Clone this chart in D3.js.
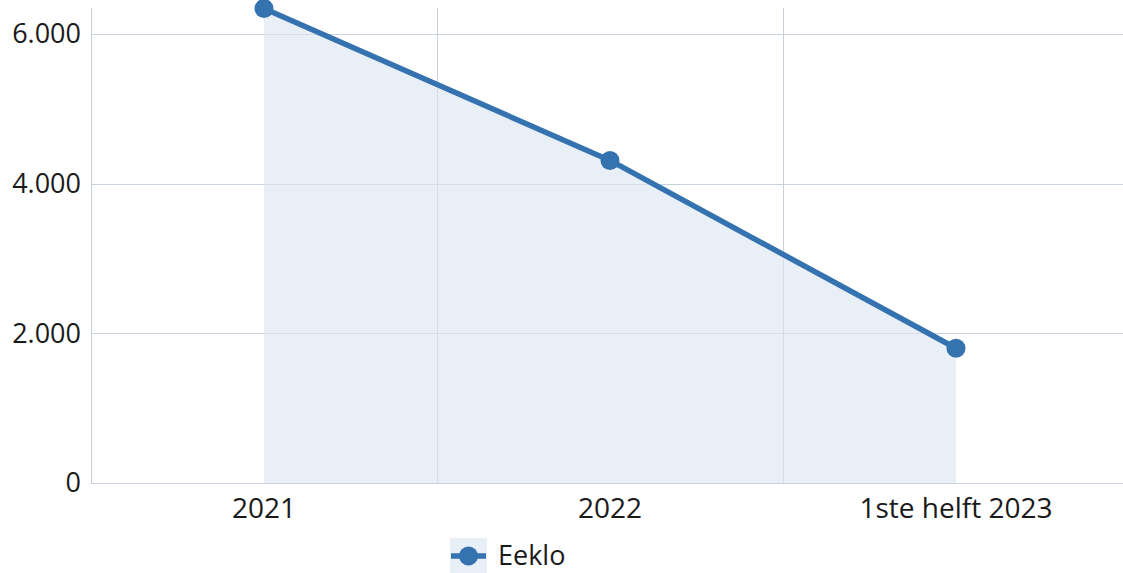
<!DOCTYPE html>
<html>
<head>
<meta charset="utf-8">
<script src="https://cdn.jsdelivr.net/npm/d3@7"></script>
<style>
  body { margin: 0; background: #fff; overflow: hidden; }
  svg { display: block; font-family: "Open Sans", "Noto Sans", sans-serif; }
</style>
</head>
<body>
<svg id="chart" width="1123" height="573"></svg>
<script>
var categories = ['2021', '2022', '1ste helft 2023'];
var eeklo = [6340, 4310, 1800];
var yTicks = [0, 2000, 4000, 6000];
var seriesName = 'Eeklo';

var svg = d3.select('#chart');
var plotLeft = 91, plotRight = 1129, plotTop = 8, plotBottom = 483;

var x = d3.scaleBand().domain(categories).range([plotLeft, plotRight]).padding(0);
var y = d3.scaleLinear().domain([0, 6347]).range([plotBottom, plotTop]);
var fmt = function(d) { return d3.format(',')(d).replace(/,/g, '.'); };
var cx = function(d, i) { return x(categories[i]) + x.bandwidth() / 2; };

function grid(opacity) {
    var g = svg.append('g').style('stroke-opacity', opacity);
    g.selectAll('line.h')
        .data(yTicks).enter().append('line').attr('class', 'h')
        .attr('x1', plotLeft).attr('x2', 1123)
        .attr('y1', function(d) { return Math.round(y(d)) + 0.5; })
        .attr('y2', function(d) { return Math.round(y(d)) + 0.5; })
        .style('stroke', '#c9d3e0');
    g.selectAll('line.v')
        .data(categories.slice(1)).enter().append('line').attr('class', 'v')
        .attr('x1', function(d) { return Math.round(x(d)) + 0.5; })
        .attr('x2', function(d) { return Math.round(x(d)) + 0.5; })
        .attr('y1', plotTop).attr('y2', plotBottom)
        .style('stroke', '#c9d0da');
}

grid(1);

// left axis line
svg.append('line')
    .attr('x1', plotLeft + 0.5).attr('x2', plotLeft + 0.5)
    .attr('y1', plotTop).attr('y2', plotBottom)
    .style('stroke', '#c9d0da');

// area
svg.append('path')
    .datum(eeklo)
    .attr('d', d3.area().x(cx).y0(y(0)).y1(function(d) { return y(d); }))
    .style('fill', '#e8eff7');

grid(0.6);

// line
svg.append('path')
    .datum(eeklo)
    .attr('d', d3.line().x(cx).y(function(d) { return y(d); }))
    .style('fill', 'none').style('stroke', '#3572b0').style('stroke-width', 5.5)
    .style('stroke-linejoin', 'round');

// points
svg.append('g').selectAll('circle')
    .data(eeklo).enter().append('circle')
    .attr('cx', cx).attr('cy', function(d) { return y(d); })
    .attr('r', 9.5)
    .style('fill', '#3572b0');

// y labels
svg.append('g').selectAll('text')
    .data(yTicks).enter().append('text')
    .attr('x', 81).attr('y', function(d) { return y(d); })
    .attr('dy', '0.35em')
    .attr('text-anchor', 'end')
    .style('font-size', '27px').style('fill', '#1a1a1a')
    .text(fmt);

// x labels
svg.append('g').selectAll('text')
    .data(categories).enter().append('text')
    .attr('x', function(d) { return x(d) + x.bandwidth() / 2; })
    .attr('y', 508).attr('dy', '0.35em')
    .attr('text-anchor', 'middle')
    .style('font-size', '28px').style('fill', '#1a1a1a')
    .text(function(d) { return d; });

// legend
var lg = svg.append('g').attr('transform', 'translate(450,538)');
lg.append('rect').attr('width', 37).attr('height', 35).style('fill', '#e8eff7');
lg.append('line').attr('x1', 1).attr('x2', 36).attr('y1', 18).attr('y2', 18)
    .style('stroke', '#3572b0').style('stroke-width', 5.5);
lg.append('circle').attr('cx', 18.5).attr('cy', 18).attr('r', 9.5).style('fill', '#3572b0');
lg.append('text').attr('x', 48).attr('y', 18).attr('dy', '0.35em')
    .style('font-size', '27px').style('fill', '#1a1a1a')
    .text(seriesName);
</script>
</body>
</html>
